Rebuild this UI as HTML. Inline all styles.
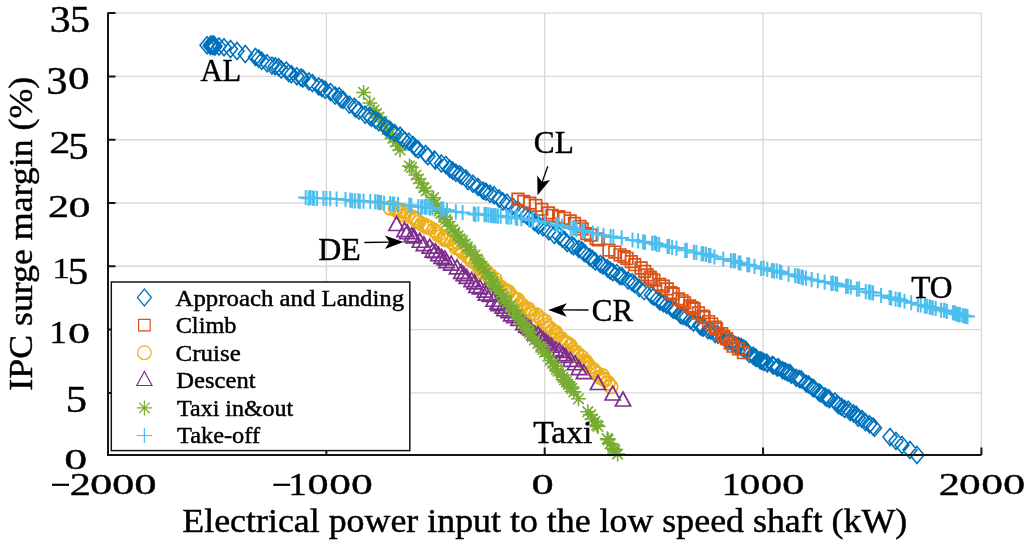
<!DOCTYPE html>
<html><head><meta charset="utf-8"><style>
html,body{margin:0;padding:0;background:#fff;}
svg{display:block;will-change:transform;}
text{font-family:"Liberation Serif",serif;fill:#000;}
</style></head><body>
<svg width="1030" height="545" viewBox="0 0 1030 545">
<rect width="1030" height="545" fill="#fff"/>
<path d="M109 392.9H981.4M109 329.6H981.4M109 266.3H981.4M109 203H981.4M109 139.7H981.4M109 76.4H981.4M109 13.1H981.4M326.35 13.1V454M544.7 13.1V454M763.05 13.1V454M981.4 13.1V454" stroke="#d9d9d9" stroke-width="1.4" fill="none"/>
<path d="M383.28 207.7a6.8 6.8 0 1 0 13.6 0a6.8 6.8 0 1 0 -13.6 0M383.27 208.11a6.8 6.8 0 1 0 13.6 0a6.8 6.8 0 1 0 -13.6 0M388.44 208.28a6.8 6.8 0 1 0 13.6 0a6.8 6.8 0 1 0 -13.6 0M389.49 209.99a6.8 6.8 0 1 0 13.6 0a6.8 6.8 0 1 0 -13.6 0M391.74 211.35a6.8 6.8 0 1 0 13.6 0a6.8 6.8 0 1 0 -13.6 0M393.42 210.36a6.8 6.8 0 1 0 13.6 0a6.8 6.8 0 1 0 -13.6 0M394.38 211.22a6.8 6.8 0 1 0 13.6 0a6.8 6.8 0 1 0 -13.6 0M397.94 211.58a6.8 6.8 0 1 0 13.6 0a6.8 6.8 0 1 0 -13.6 0M397.57 215.12a6.8 6.8 0 1 0 13.6 0a6.8 6.8 0 1 0 -13.6 0M401.11 214.9a6.8 6.8 0 1 0 13.6 0a6.8 6.8 0 1 0 -13.6 0M405.4 216.91a6.8 6.8 0 1 0 13.6 0a6.8 6.8 0 1 0 -13.6 0M408.16 218.16a6.8 6.8 0 1 0 13.6 0a6.8 6.8 0 1 0 -13.6 0M409.35 220.01a6.8 6.8 0 1 0 13.6 0a6.8 6.8 0 1 0 -13.6 0M411.79 222.19a6.8 6.8 0 1 0 13.6 0a6.8 6.8 0 1 0 -13.6 0M414.97 224.17a6.8 6.8 0 1 0 13.6 0a6.8 6.8 0 1 0 -13.6 0M417.79 225.23a6.8 6.8 0 1 0 13.6 0a6.8 6.8 0 1 0 -13.6 0M419.58 226.81a6.8 6.8 0 1 0 13.6 0a6.8 6.8 0 1 0 -13.6 0M420.09 227.1a6.8 6.8 0 1 0 13.6 0a6.8 6.8 0 1 0 -13.6 0M421.44 227.27a6.8 6.8 0 1 0 13.6 0a6.8 6.8 0 1 0 -13.6 0M422.98 227.8a6.8 6.8 0 1 0 13.6 0a6.8 6.8 0 1 0 -13.6 0M427.31 230.22a6.8 6.8 0 1 0 13.6 0a6.8 6.8 0 1 0 -13.6 0M429.42 232.03a6.8 6.8 0 1 0 13.6 0a6.8 6.8 0 1 0 -13.6 0M431.25 234.53a6.8 6.8 0 1 0 13.6 0a6.8 6.8 0 1 0 -13.6 0M434.31 236.33a6.8 6.8 0 1 0 13.6 0a6.8 6.8 0 1 0 -13.6 0M437.19 237.71a6.8 6.8 0 1 0 13.6 0a6.8 6.8 0 1 0 -13.6 0M437.77 239.37a6.8 6.8 0 1 0 13.6 0a6.8 6.8 0 1 0 -13.6 0M438.52 238.26a6.8 6.8 0 1 0 13.6 0a6.8 6.8 0 1 0 -13.6 0M440.66 240.12a6.8 6.8 0 1 0 13.6 0a6.8 6.8 0 1 0 -13.6 0M444.72 242.12a6.8 6.8 0 1 0 13.6 0a6.8 6.8 0 1 0 -13.6 0M447.71 244.14a6.8 6.8 0 1 0 13.6 0a6.8 6.8 0 1 0 -13.6 0M449.24 247.68a6.8 6.8 0 1 0 13.6 0a6.8 6.8 0 1 0 -13.6 0M452.58 248.55a6.8 6.8 0 1 0 13.6 0a6.8 6.8 0 1 0 -13.6 0M455.39 250.42a6.8 6.8 0 1 0 13.6 0a6.8 6.8 0 1 0 -13.6 0M455.5 251.37a6.8 6.8 0 1 0 13.6 0a6.8 6.8 0 1 0 -13.6 0M456.14 252.42a6.8 6.8 0 1 0 13.6 0a6.8 6.8 0 1 0 -13.6 0M461.18 256.86a6.8 6.8 0 1 0 13.6 0a6.8 6.8 0 1 0 -13.6 0M462.82 256.5a6.8 6.8 0 1 0 13.6 0a6.8 6.8 0 1 0 -13.6 0M465.02 260.78a6.8 6.8 0 1 0 13.6 0a6.8 6.8 0 1 0 -13.6 0M465.84 260.77a6.8 6.8 0 1 0 13.6 0a6.8 6.8 0 1 0 -13.6 0M468.95 262.81a6.8 6.8 0 1 0 13.6 0a6.8 6.8 0 1 0 -13.6 0M471.35 264.43a6.8 6.8 0 1 0 13.6 0a6.8 6.8 0 1 0 -13.6 0M472.78 268.81a6.8 6.8 0 1 0 13.6 0a6.8 6.8 0 1 0 -13.6 0M474.61 267.82a6.8 6.8 0 1 0 13.6 0a6.8 6.8 0 1 0 -13.6 0M474.81 271.97a6.8 6.8 0 1 0 13.6 0a6.8 6.8 0 1 0 -13.6 0M479.27 271.3a6.8 6.8 0 1 0 13.6 0a6.8 6.8 0 1 0 -13.6 0M480.82 274.76a6.8 6.8 0 1 0 13.6 0a6.8 6.8 0 1 0 -13.6 0M483.65 275.7a6.8 6.8 0 1 0 13.6 0a6.8 6.8 0 1 0 -13.6 0M483.69 278.07a6.8 6.8 0 1 0 13.6 0a6.8 6.8 0 1 0 -13.6 0M488.41 279.45a6.8 6.8 0 1 0 13.6 0a6.8 6.8 0 1 0 -13.6 0M488.72 283.27a6.8 6.8 0 1 0 13.6 0a6.8 6.8 0 1 0 -13.6 0M491.13 286.57a6.8 6.8 0 1 0 13.6 0a6.8 6.8 0 1 0 -13.6 0M493.84 287.23a6.8 6.8 0 1 0 13.6 0a6.8 6.8 0 1 0 -13.6 0M498.23 290.1a6.8 6.8 0 1 0 13.6 0a6.8 6.8 0 1 0 -13.6 0M497.66 291.52a6.8 6.8 0 1 0 13.6 0a6.8 6.8 0 1 0 -13.6 0M500.16 292.79a6.8 6.8 0 1 0 13.6 0a6.8 6.8 0 1 0 -13.6 0M501.63 291.98a6.8 6.8 0 1 0 13.6 0a6.8 6.8 0 1 0 -13.6 0M504.46 295.75a6.8 6.8 0 1 0 13.6 0a6.8 6.8 0 1 0 -13.6 0M506.25 297.66a6.8 6.8 0 1 0 13.6 0a6.8 6.8 0 1 0 -13.6 0M508.7 300.21a6.8 6.8 0 1 0 13.6 0a6.8 6.8 0 1 0 -13.6 0M510.73 299.63a6.8 6.8 0 1 0 13.6 0a6.8 6.8 0 1 0 -13.6 0M513.49 303.84a6.8 6.8 0 1 0 13.6 0a6.8 6.8 0 1 0 -13.6 0M515.24 305.1a6.8 6.8 0 1 0 13.6 0a6.8 6.8 0 1 0 -13.6 0M515.25 305.16a6.8 6.8 0 1 0 13.6 0a6.8 6.8 0 1 0 -13.6 0M517.08 308.74a6.8 6.8 0 1 0 13.6 0a6.8 6.8 0 1 0 -13.6 0M521.14 308.88a6.8 6.8 0 1 0 13.6 0a6.8 6.8 0 1 0 -13.6 0M521.92 310.37a6.8 6.8 0 1 0 13.6 0a6.8 6.8 0 1 0 -13.6 0M523.65 313.14a6.8 6.8 0 1 0 13.6 0a6.8 6.8 0 1 0 -13.6 0M525.8 313.91a6.8 6.8 0 1 0 13.6 0a6.8 6.8 0 1 0 -13.6 0M529.92 315.01a6.8 6.8 0 1 0 13.6 0a6.8 6.8 0 1 0 -13.6 0M530.13 319.38a6.8 6.8 0 1 0 13.6 0a6.8 6.8 0 1 0 -13.6 0M534 318.7a6.8 6.8 0 1 0 13.6 0a6.8 6.8 0 1 0 -13.6 0M538.18 321.34a6.8 6.8 0 1 0 13.6 0a6.8 6.8 0 1 0 -13.6 0M539.47 325.26a6.8 6.8 0 1 0 13.6 0a6.8 6.8 0 1 0 -13.6 0M541.08 328.02a6.8 6.8 0 1 0 13.6 0a6.8 6.8 0 1 0 -13.6 0M543.3 328.42a6.8 6.8 0 1 0 13.6 0a6.8 6.8 0 1 0 -13.6 0M546.27 331.07a6.8 6.8 0 1 0 13.6 0a6.8 6.8 0 1 0 -13.6 0M545.4 330.54a6.8 6.8 0 1 0 13.6 0a6.8 6.8 0 1 0 -13.6 0M548.81 332.36a6.8 6.8 0 1 0 13.6 0a6.8 6.8 0 1 0 -13.6 0M549.94 335.47a6.8 6.8 0 1 0 13.6 0a6.8 6.8 0 1 0 -13.6 0M554.12 338.41a6.8 6.8 0 1 0 13.6 0a6.8 6.8 0 1 0 -13.6 0M554.12 339.88a6.8 6.8 0 1 0 13.6 0a6.8 6.8 0 1 0 -13.6 0M557.25 341.33a6.8 6.8 0 1 0 13.6 0a6.8 6.8 0 1 0 -13.6 0M559.16 342.54a6.8 6.8 0 1 0 13.6 0a6.8 6.8 0 1 0 -13.6 0M560.97 343.7a6.8 6.8 0 1 0 13.6 0a6.8 6.8 0 1 0 -13.6 0M563.46 345.76a6.8 6.8 0 1 0 13.6 0a6.8 6.8 0 1 0 -13.6 0M565.37 349.96a6.8 6.8 0 1 0 13.6 0a6.8 6.8 0 1 0 -13.6 0M565.99 352.58a6.8 6.8 0 1 0 13.6 0a6.8 6.8 0 1 0 -13.6 0M569.35 352.26a6.8 6.8 0 1 0 13.6 0a6.8 6.8 0 1 0 -13.6 0M570.45 355.4a6.8 6.8 0 1 0 13.6 0a6.8 6.8 0 1 0 -13.6 0M572.93 355.8a6.8 6.8 0 1 0 13.6 0a6.8 6.8 0 1 0 -13.6 0M575.19 357.46a6.8 6.8 0 1 0 13.6 0a6.8 6.8 0 1 0 -13.6 0M575.6 361.35a6.8 6.8 0 1 0 13.6 0a6.8 6.8 0 1 0 -13.6 0M578.88 361.41a6.8 6.8 0 1 0 13.6 0a6.8 6.8 0 1 0 -13.6 0M578.81 363.77a6.8 6.8 0 1 0 13.6 0a6.8 6.8 0 1 0 -13.6 0M581.08 364.72a6.8 6.8 0 1 0 13.6 0a6.8 6.8 0 1 0 -13.6 0M582.38 367.35a6.8 6.8 0 1 0 13.6 0a6.8 6.8 0 1 0 -13.6 0M586.08 369.46a6.8 6.8 0 1 0 13.6 0a6.8 6.8 0 1 0 -13.6 0M586.18 369.98a6.8 6.8 0 1 0 13.6 0a6.8 6.8 0 1 0 -13.6 0M587.69 371.14a6.8 6.8 0 1 0 13.6 0a6.8 6.8 0 1 0 -13.6 0M590.52 373.76a6.8 6.8 0 1 0 13.6 0a6.8 6.8 0 1 0 -13.6 0M593 377.05a6.8 6.8 0 1 0 13.6 0a6.8 6.8 0 1 0 -13.6 0M595.63 375.66a6.8 6.8 0 1 0 13.6 0a6.8 6.8 0 1 0 -13.6 0M596.56 378.97a6.8 6.8 0 1 0 13.6 0a6.8 6.8 0 1 0 -13.6 0M598.13 380.16a6.8 6.8 0 1 0 13.6 0a6.8 6.8 0 1 0 -13.6 0M601.4 382.97a6.8 6.8 0 1 0 13.6 0a6.8 6.8 0 1 0 -13.6 0M604.06 386.72a6.8 6.8 0 1 0 13.6 0a6.8 6.8 0 1 0 -13.6 0" fill="none" stroke="#EDB120" stroke-width="1.7"/>
<path d="M396.5 216.5l7.6 14h-15.2zM404.52 222.59l7.6 14h-15.2zM407.24 224.75l7.6 14h-15.2zM411.74 227.72l7.6 14h-15.2zM413.9 228.81l7.6 14h-15.2zM419.8 233.26l7.6 14h-15.2zM423.85 236.7l7.6 14h-15.2zM429.71 239.19l7.6 14h-15.2zM432.71 243.17l7.6 14h-15.2zM435.47 243.76l7.6 14h-15.2zM438.37 246.76l7.6 14h-15.2zM441.69 249.42l7.6 14h-15.2zM444.86 250.92l7.6 14h-15.2zM446.61 253.56l7.6 14h-15.2zM451.23 256.11l7.6 14h-15.2zM457.02 259.9l7.6 14h-15.2zM461.26 264.29l7.6 14h-15.2zM463.8 266.61l7.6 14h-15.2zM466.74 269.41l7.6 14h-15.2zM471.6 272.56l7.6 14h-15.2zM474.47 274.86l7.6 14h-15.2zM476.47 278.51l7.6 14h-15.2zM480.01 279.87l7.6 14h-15.2zM484.72 283.18l7.6 14h-15.2zM485.92 286.13l7.6 14h-15.2zM490.11 287.38l7.6 14h-15.2zM493.59 292.23l7.6 14h-15.2zM497.47 295.03l7.6 14h-15.2zM498.74 296.71l7.6 14h-15.2zM502.7 299.11l7.6 14h-15.2zM504.52 301.75l7.6 14h-15.2zM508.55 303.62l7.6 14h-15.2zM511.21 306.96l7.6 14h-15.2zM514.43 308.73l7.6 14h-15.2zM518.52 311.44l7.6 14h-15.2zM523.36 315.54l7.6 14h-15.2zM526.24 318.21l7.6 14h-15.2zM528.48 319.41l7.6 14h-15.2zM530.5 320.95l7.6 14h-15.2zM534.66 325.91l7.6 14h-15.2zM537.89 326.73l7.6 14h-15.2zM540.79 329.6l7.6 14h-15.2zM543.36 332.02l7.6 14h-15.2zM545.97 334.1l7.6 14h-15.2zM548.37 336.18l7.6 14h-15.2zM551.46 338.03l7.6 14h-15.2zM555.84 341.7l7.6 14h-15.2zM559.22 343.44l7.6 14h-15.2zM562.76 346.61l7.6 14h-15.2zM565.42 348.52l7.6 14h-15.2zM570.46 352.32l7.6 14h-15.2zM575 355.73l7.6 14h-15.2zM578.92 360.53l7.6 14h-15.2zM583.94 364.71l7.6 14h-15.2zM598 375.5l7.6 14h-15.2zM612.6 386l7.6 14h-15.2zM623 392l7.6 14h-15.2z" fill="none" stroke="#7E2F8E" stroke-width="1.7"/>
<path d="M356.1 92.4h15M363.6 84.9v15M358.3 87.1l10.61 10.61M358.3 97.7l10.61 -10.61M362.3 103h15M369.8 95.5v15M364.5 97.7l10.61 10.61M364.5 108.3l10.61 -10.61M366.5 110h15M374 102.5v15M368.7 104.7l10.61 10.61M368.7 115.3l10.61 -10.61M369 113.5h15M376.5 106v15M371.2 108.2l10.61 10.61M371.2 118.8l10.61 -10.61M371.5 117h15M379 109.5v15M373.7 111.7l10.61 10.61M373.7 122.3l10.61 -10.61M374.5 121.5h15M382 114v15M376.7 116.2l10.61 10.61M376.7 126.8l10.61 -10.61M377 125h15M384.5 117.5v15M379.2 119.7l10.61 10.61M379.2 130.3l10.61 -10.61M379.5 129.5h15M387 122v15M381.7 124.2l10.61 10.61M381.7 134.8l10.61 -10.61M382.5 134h15M390 126.5v15M384.7 128.7l10.61 10.61M384.7 139.3l10.61 -10.61M385.5 138.5h15M393 131v15M387.7 133.2l10.61 10.61M387.7 143.8l10.61 -10.61M388 142h15M395.5 134.5v15M390.2 136.7l10.61 10.61M390.2 147.3l10.61 -10.61M390.5 146h15M398 138.5v15M392.7 140.7l10.61 10.61M392.7 151.3l10.61 -10.61M392.5 150h15M400 142.5v15M394.7 144.7l10.61 10.61M394.7 155.3l10.61 -10.61M402 166h15M409.5 158.5v15M404.2 160.7l10.61 10.61M404.2 171.3l10.61 -10.61M404 167.5h15M411.5 160v15M406.2 162.2l10.61 10.61M406.2 172.8l10.61 -10.61M408.5 175h15M416 167.5v15M410.7 169.7l10.61 10.61M410.7 180.3l10.61 -10.61M411 179h15M418.5 171.5v15M413.2 173.7l10.61 10.61M413.2 184.3l10.61 -10.61M413.5 183h15M421 175.5v15M415.7 177.7l10.61 10.61M415.7 188.3l10.61 -10.61M416.5 188h15M424 180.5v15M418.7 182.7l10.61 10.61M418.7 193.3l10.61 -10.61M418.5 191h15M426 183.5v15M420.7 185.7l10.61 10.61M420.7 196.3l10.61 -10.61M426 197.7h15M433.5 190.2v15M428.2 192.4l10.61 10.61M428.2 203l10.61 -10.61M424.31 200.04h15M431.81 192.54v15M426.5 194.73l10.61 10.61M426.5 205.34l10.61 -10.61M427.36 203.97h15M434.86 196.47v15M429.55 198.67l10.61 10.61M429.55 209.27l10.61 -10.61M429.02 206.83h15M436.52 199.33v15M431.21 201.52l10.61 10.61M431.21 212.13l10.61 -10.61M431.67 211.12h15M439.17 203.62v15M433.87 205.82l10.61 10.61M433.87 216.42l10.61 -10.61M433.37 213.34h15M440.87 205.84v15M435.57 208.04l10.61 10.61M435.57 218.65l10.61 -10.61M436.12 217.06h15M443.62 209.56v15M438.31 211.76l10.61 10.61M438.31 222.36l10.61 -10.61M438.23 219.5h15M445.73 212v15M440.43 214.2l10.61 10.61M440.43 224.8l10.61 -10.61M439.79 221.91h15M447.29 214.41v15M441.99 216.61l10.61 10.61M441.99 227.22l10.61 -10.61M442.58 226h15M450.08 218.5v15M444.78 220.7l10.61 10.61M444.78 231.3l10.61 -10.61M445.28 229.63h15M452.78 222.13v15M447.48 224.33l10.61 10.61M447.48 234.94l10.61 -10.61M447.28 231.99h15M454.78 224.49v15M449.48 226.69l10.61 10.61M449.48 237.29l10.61 -10.61M450.61 235.74h15M458.11 228.24v15M452.8 230.44l10.61 10.61M452.8 241.04l10.61 -10.61M452.66 238.82h15M460.16 231.32v15M454.85 233.52l10.61 10.61M454.85 244.13l10.61 -10.61M454.84 240.64h15M462.34 233.14v15M457.04 235.34l10.61 10.61M457.04 245.95l10.61 -10.61M457.69 244.15h15M465.19 236.65v15M459.89 238.84l10.61 10.61M459.89 249.45l10.61 -10.61M459.77 246.87h15M467.27 239.37v15M461.96 241.57l10.61 10.61M461.96 252.17l10.61 -10.61M462.52 249.79h15M470.02 242.29v15M464.71 244.49l10.61 10.61M464.71 255.1l10.61 -10.61M463.66 251.75h15M471.16 244.25v15M465.86 246.45l10.61 10.61M465.86 257.06l10.61 -10.61M467.55 255.11h15M475.05 247.61v15M469.75 249.8l10.61 10.61M469.75 260.41l10.61 -10.61M469.54 259h15M477.04 251.5v15M471.74 253.69l10.61 10.61M471.74 264.3l10.61 -10.61M470.66 261.03h15M478.16 253.53v15M472.85 255.73l10.61 10.61M472.85 266.33l10.61 -10.61M472.15 263.29h15M479.65 255.79v15M474.35 257.99l10.61 10.61M474.35 268.6l10.61 -10.61M474.56 266.28h15M482.06 258.78v15M476.76 260.98l10.61 10.61M476.76 271.59l10.61 -10.61M476.11 268.91h15M483.61 261.41v15M478.31 263.6l10.61 10.61M478.31 274.21l10.61 -10.61M478.43 272.75h15M485.93 265.25v15M480.63 267.45l10.61 10.61M480.63 278.06l10.61 -10.61M481.75 277.01h15M489.25 269.51v15M483.95 271.71l10.61 10.61M483.95 282.32l10.61 -10.61M483.23 279.03h15M490.73 271.53v15M485.43 273.73l10.61 10.61M485.43 284.33l10.61 -10.61M485.23 282.36h15M492.73 274.86v15M487.43 277.05l10.61 10.61M487.43 287.66l10.61 -10.61M486.21 284.41h15M493.71 276.91v15M488.41 279.11l10.61 10.61M488.41 289.71l10.61 -10.61M488.19 286.6h15M495.69 279.1v15M490.38 281.3l10.61 10.61M490.38 291.9l10.61 -10.61M491.25 290.35h15M498.75 282.85v15M493.45 285.05l10.61 10.61M493.45 295.65l10.61 -10.61M493.63 293.6h15M501.13 286.1v15M495.82 288.3l10.61 10.61M495.82 298.91l10.61 -10.61M495.87 296.83h15M503.37 289.33v15M498.07 291.53l10.61 10.61M498.07 302.14l10.61 -10.61M497.51 300.12h15M505.01 292.62v15M499.71 294.81l10.61 10.61M499.71 305.42l10.61 -10.61M499.47 302.22h15M506.97 294.72v15M501.67 296.92l10.61 10.61M501.67 307.52l10.61 -10.61M502.56 306.07h15M510.06 298.57v15M504.75 300.77l10.61 10.61M504.75 311.38l10.61 -10.61M505.07 309.45h15M512.57 301.95v15M507.27 304.15l10.61 10.61M507.27 314.76l10.61 -10.61M507.25 311.46h15M514.75 303.96v15M509.44 306.15l10.61 10.61M509.44 316.76l10.61 -10.61M509.39 314.45h15M516.89 306.95v15M511.59 309.15l10.61 10.61M511.59 319.76l10.61 -10.61M511.53 317.37h15M519.03 309.87v15M513.73 312.07l10.61 10.61M513.73 322.67l10.61 -10.61M513.12 319.77h15M520.62 312.27v15M515.32 314.46l10.61 10.61M515.32 325.07l10.61 -10.61M515.9 324h15M523.4 316.5v15M518.1 318.7l10.61 10.61M518.1 329.3l10.61 -10.61M517.53 326h15M525.03 318.5v15M519.73 320.7l10.61 10.61M519.73 331.3l10.61 -10.61M519.63 328.79h15M527.13 321.29v15M521.82 323.48l10.61 10.61M521.82 334.09l10.61 -10.61M521.38 331.2h15M528.88 323.7v15M523.58 325.89l10.61 10.61M523.58 336.5l10.61 -10.61M522.23 332.92h15M529.73 325.42v15M524.42 327.62l10.61 10.61M524.42 338.22l10.61 -10.61M524.88 336.61h15M532.38 329.11v15M527.07 331.31l10.61 10.61M527.07 341.92l10.61 -10.61M527.08 339.82h15M534.58 332.32v15M529.28 334.51l10.61 10.61M529.28 345.12l10.61 -10.61M530.45 343.37h15M537.95 335.87v15M532.65 338.06l10.61 10.61M532.65 348.67l10.61 -10.61M533.23 347.06h15M540.73 339.56v15M535.43 341.76l10.61 10.61M535.43 352.36l10.61 -10.61M535.33 349.47h15M542.83 341.97v15M537.52 344.17l10.61 10.61M537.52 354.78l10.61 -10.61M537.04 352.05h15M544.54 344.55v15M539.24 346.75l10.61 10.61M539.24 357.36l10.61 -10.61M540.27 356.18h15M547.77 348.68v15M542.47 350.88l10.61 10.61M542.47 361.48l10.61 -10.61M542.83 360.41h15M550.33 352.91v15M545.03 355.11l10.61 10.61M545.03 365.72l10.61 -10.61M545.07 363.25h15M552.57 355.75v15M547.26 357.95l10.61 10.61M547.26 368.56l10.61 -10.61M547.41 366.3h15M554.91 358.8v15M549.61 360.99l10.61 10.61M549.61 371.6l10.61 -10.61M549.04 369.07h15M556.54 361.57v15M551.23 363.77l10.61 10.61M551.23 374.37l10.61 -10.61M550.55 371.12h15M558.05 363.62v15M552.75 365.81l10.61 10.61M552.75 376.42l10.61 -10.61M553.55 374.92h15M561.05 367.42v15M555.75 369.62l10.61 10.61M555.75 380.22l10.61 -10.61M555.43 377.31h15M562.93 369.81v15M557.62 372.01l10.61 10.61M557.62 382.61l10.61 -10.61M556.93 379.74h15M564.43 372.24v15M559.13 374.43l10.61 10.61M559.13 385.04l10.61 -10.61M558.94 381.79h15M566.44 374.29v15M561.13 376.49l10.61 10.61M561.13 387.09l10.61 -10.61M560.73 384.36h15M568.23 376.86v15M562.93 379.06l10.61 10.61M562.93 389.66l10.61 -10.61M562.61 386.73h15M570.11 379.23v15M564.81 381.42l10.61 10.61M564.81 392.03l10.61 -10.61M564.35 388.58h15M571.85 381.08v15M566.54 383.28l10.61 10.61M566.54 393.88l10.61 -10.61M566.31 391.89h15M573.81 384.39v15M568.51 386.59l10.61 10.61M568.51 397.19l10.61 -10.61M571 398.8h15M578.5 391.3v15M573.2 393.5l10.61 10.61M573.2 404.1l10.61 -10.61M580.31 411.73h15M587.81 404.23v15M582.51 406.42l10.61 10.61M582.51 417.03l10.61 -10.61M583.04 414.88h15M590.54 407.38v15M585.24 409.58l10.61 10.61M585.24 420.19l10.61 -10.61M584.46 419.09h15M591.96 411.59v15M586.66 413.78l10.61 10.61M586.66 424.39l10.61 -10.61M587.42 421.57h15M594.92 414.07v15M589.62 416.27l10.61 10.61M589.62 426.87l10.61 -10.61M589.24 425.11h15M596.74 417.61v15M591.43 419.81l10.61 10.61M591.43 430.42l10.61 -10.61M590.61 426.47h15M598.11 418.97v15M592.81 421.17l10.61 10.61M592.81 431.78l10.61 -10.61M599.71 438.71h15M607.21 431.21v15M601.91 433.4l10.61 10.61M601.91 444.01l10.61 -10.61M600.6 439.79h15M608.1 432.29v15M602.79 434.48l10.61 10.61M602.79 445.09l10.61 -10.61M602.61 443.65h15M610.11 436.15v15M604.81 438.35l10.61 10.61M604.81 448.96l10.61 -10.61M605.36 448.41h15M612.86 440.91v15M607.56 443.1l10.61 10.61M607.56 453.71l10.61 -10.61M607.16 450.68h15M614.66 443.18v15M609.35 445.37l10.61 10.61M609.35 455.98l10.61 -10.61M607 449.5h15M614.5 442v15M609.2 444.2l10.61 10.61M609.2 454.8l10.61 -10.61M610.1 454.1h15M617.6 446.6v15M612.3 448.8l10.61 10.61M612.3 459.4l10.61 -10.61" fill="none" stroke="#77AC30" stroke-width="1.55"/>
<path d="M207 36.8l7 8.5l-7 8.5l-7 -8.5zM212.26 37.12l7 8.5l-7 8.5l-7 -8.5zM214.62 36.93l7 8.5l-7 8.5l-7 -8.5zM212.54 37.17l7 8.5l-7 8.5l-7 -8.5zM210.92 37.02l7 8.5l-7 8.5l-7 -8.5zM213.15 37.59l7 8.5l-7 8.5l-7 -8.5zM210.47 36.61l7 8.5l-7 8.5l-7 -8.5zM210.45 37.62l7 8.5l-7 8.5l-7 -8.5zM213.47 36.08l7 8.5l-7 8.5l-7 -8.5zM214.91 37.93l7 8.5l-7 8.5l-7 -8.5zM213.27 37.23l7 8.5l-7 8.5l-7 -8.5zM210.79 36.03l7 8.5l-7 8.5l-7 -8.5zM212.64 36.12l7 8.5l-7 8.5l-7 -8.5zM219 38l7 8.5l-7 8.5l-7 -8.5zM224 38.8l7 8.5l-7 8.5l-7 -8.5zM230.5 40.5l7 8.5l-7 8.5l-7 -8.5zM237 42.5l7 8.5l-7 8.5l-7 -8.5zM245.3 45.5l7 8.5l-7 8.5l-7 -8.5zM255.5 48.59l7 8.5l-7 8.5l-7 -8.5zM258.64 49.91l7 8.5l-7 8.5l-7 -8.5zM261.75 52.32l7 8.5l-7 8.5l-7 -8.5zM267.08 54.77l7 8.5l-7 8.5l-7 -8.5zM271.93 57.11l7 8.5l-7 8.5l-7 -8.5zM275.22 57.79l7 8.5l-7 8.5l-7 -8.5zM278.65 58.73l7 8.5l-7 8.5l-7 -8.5zM281.28 61.09l7 8.5l-7 8.5l-7 -8.5zM286.26 62.11l7 8.5l-7 8.5l-7 -8.5zM288.76 64.63l7 8.5l-7 8.5l-7 -8.5zM291.44 65.78l7 8.5l-7 8.5l-7 -8.5zM296.79 67.66l7 8.5l-7 8.5l-7 -8.5zM300.97 68.91l7 8.5l-7 8.5l-7 -8.5zM302.87 69.91l7 8.5l-7 8.5l-7 -8.5zM308.89 72.89l7 8.5l-7 8.5l-7 -8.5zM312.34 74.6l7 8.5l-7 8.5l-7 -8.5zM318.75 77.96l7 8.5l-7 8.5l-7 -8.5zM321.87 79.56l7 8.5l-7 8.5l-7 -8.5zM325.04 81.24l7 8.5l-7 8.5l-7 -8.5zM330.51 83.42l7 8.5l-7 8.5l-7 -8.5zM335.08 86.96l7 8.5l-7 8.5l-7 -8.5zM339.15 87.75l7 8.5l-7 8.5l-7 -8.5zM341.19 90.88l7 8.5l-7 8.5l-7 -8.5zM343.2 91.29l7 8.5l-7 8.5l-7 -8.5zM349.4 96.13l7 8.5l-7 8.5l-7 -8.5zM354.47 98.28l7 8.5l-7 8.5l-7 -8.5zM355.79 100.26l7 8.5l-7 8.5l-7 -8.5zM359 102.14l7 8.5l-7 8.5l-7 -8.5zM365.11 106.2l7 8.5l-7 8.5l-7 -8.5zM369.26 107.41l7 8.5l-7 8.5l-7 -8.5zM371.34 109.34l7 8.5l-7 8.5l-7 -8.5zM375.39 111.35l7 8.5l-7 8.5l-7 -8.5zM378.75 113.79l7 8.5l-7 8.5l-7 -8.5zM384.62 117.45l7 8.5l-7 8.5l-7 -8.5zM386.4 119.13l7 8.5l-7 8.5l-7 -8.5zM390.46 121.76l7 8.5l-7 8.5l-7 -8.5zM394.61 124.39l7 8.5l-7 8.5l-7 -8.5zM400.1 127.3l7 8.5l-7 8.5l-7 -8.5zM402.23 129.59l7 8.5l-7 8.5l-7 -8.5zM404.87 132.09l7 8.5l-7 8.5l-7 -8.5zM408.82 133.13l7 8.5l-7 8.5l-7 -8.5zM413.14 136.72l7 8.5l-7 8.5l-7 -8.5zM415.68 139.57l7 8.5l-7 8.5l-7 -8.5zM418.17 141.04l7 8.5l-7 8.5l-7 -8.5zM425.55 145.54l7 8.5l-7 8.5l-7 -8.5zM427.95 147.73l7 8.5l-7 8.5l-7 -8.5zM434.5 150.9l7 8.5l-7 8.5l-7 -8.5zM435.24 152.06l7 8.5l-7 8.5l-7 -8.5zM441.36 155.06l7 8.5l-7 8.5l-7 -8.5zM445.88 156.45l7 8.5l-7 8.5l-7 -8.5zM449.78 160.29l7 8.5l-7 8.5l-7 -8.5zM452.8 162.21l7 8.5l-7 8.5l-7 -8.5zM455.84 164.27l7 8.5l-7 8.5l-7 -8.5zM459.59 165.84l7 8.5l-7 8.5l-7 -8.5zM461.67 167.47l7 8.5l-7 8.5l-7 -8.5zM465.89 169.89l7 8.5l-7 8.5l-7 -8.5zM467.91 172.55l7 8.5l-7 8.5l-7 -8.5zM472.94 175.18l7 8.5l-7 8.5l-7 -8.5zM478.03 178.44l7 8.5l-7 8.5l-7 -8.5zM483.23 182.28l7 8.5l-7 8.5l-7 -8.5zM485.98 183.22l7 8.5l-7 8.5l-7 -8.5zM490.05 185.34l7 8.5l-7 8.5l-7 -8.5zM494.12 186.69l7 8.5l-7 8.5l-7 -8.5zM499.12 189.92l7 8.5l-7 8.5l-7 -8.5zM502.88 193.05l7 8.5l-7 8.5l-7 -8.5zM506.92 194.32l7 8.5l-7 8.5l-7 -8.5zM512.51 197.76l7 8.5l-7 8.5l-7 -8.5zM517.77 201.02l7 8.5l-7 8.5l-7 -8.5zM522.98 205.24l7 8.5l-7 8.5l-7 -8.5zM526.4 206.9l7 8.5l-7 8.5l-7 -8.5zM529.36 209.46l7 8.5l-7 8.5l-7 -8.5zM534.4 213.56l7 8.5l-7 8.5l-7 -8.5zM537 214.41l7 8.5l-7 8.5l-7 -8.5zM538.48 216.8l7 8.5l-7 8.5l-7 -8.5zM543.03 218.75l7 8.5l-7 8.5l-7 -8.5zM548.85 222.77l7 8.5l-7 8.5l-7 -8.5zM554.35 226.44l7 8.5l-7 8.5l-7 -8.5zM559.14 227.43l7 8.5l-7 8.5l-7 -8.5zM562.5 230.19l7 8.5l-7 8.5l-7 -8.5zM564.73 231.67l7 8.5l-7 8.5l-7 -8.5zM567.14 234.46l7 8.5l-7 8.5l-7 -8.5zM571.74 236.53l7 8.5l-7 8.5l-7 -8.5zM573.75 237.86l7 8.5l-7 8.5l-7 -8.5zM578.81 240.59l7 8.5l-7 8.5l-7 -8.5zM581.95 242.08l7 8.5l-7 8.5l-7 -8.5zM583.91 243.92l7 8.5l-7 8.5l-7 -8.5zM585.07 244.9l7 8.5l-7 8.5l-7 -8.5zM589.79 248.78l7 8.5l-7 8.5l-7 -8.5zM592.45 250.49l7 8.5l-7 8.5l-7 -8.5zM595.28 252.95l7 8.5l-7 8.5l-7 -8.5zM600.35 255.49l7 8.5l-7 8.5l-7 -8.5zM602.89 256.96l7 8.5l-7 8.5l-7 -8.5zM607.32 259.67l7 8.5l-7 8.5l-7 -8.5zM610.16 262.07l7 8.5l-7 8.5l-7 -8.5zM612.92 263.67l7 8.5l-7 8.5l-7 -8.5zM616.71 264.63l7 8.5l-7 8.5l-7 -8.5zM619.85 267.5l7 8.5l-7 8.5l-7 -8.5zM622.11 267.8l7 8.5l-7 8.5l-7 -8.5zM628.04 272.06l7 8.5l-7 8.5l-7 -8.5zM632.09 273.81l7 8.5l-7 8.5l-7 -8.5zM634.54 275.41l7 8.5l-7 8.5l-7 -8.5zM639.19 279.47l7 8.5l-7 8.5l-7 -8.5zM644.21 282.63l7 8.5l-7 8.5l-7 -8.5zM651.35 286.41l7 8.5l-7 8.5l-7 -8.5zM653.57 287.95l7 8.5l-7 8.5l-7 -8.5zM657.46 290.6l7 8.5l-7 8.5l-7 -8.5zM659.9 292.96l7 8.5l-7 8.5l-7 -8.5zM663.34 294.67l7 8.5l-7 8.5l-7 -8.5zM666.68 296.47l7 8.5l-7 8.5l-7 -8.5zM670.88 299.02l7 8.5l-7 8.5l-7 -8.5zM673.28 301.3l7 8.5l-7 8.5l-7 -8.5zM675.44 301.76l7 8.5l-7 8.5l-7 -8.5zM680.49 306.52l7 8.5l-7 8.5l-7 -8.5zM683.01 307.54l7 8.5l-7 8.5l-7 -8.5zM686.31 308.67l7 8.5l-7 8.5l-7 -8.5zM690.45 311.68l7 8.5l-7 8.5l-7 -8.5zM693.6 314.11l7 8.5l-7 8.5l-7 -8.5zM699.97 316.33l7 8.5l-7 8.5l-7 -8.5zM700.19 317.68l7 8.5l-7 8.5l-7 -8.5zM702.54 318.93l7 8.5l-7 8.5l-7 -8.5zM703.49 318.66l7 8.5l-7 8.5l-7 -8.5zM708.07 321.77l7 8.5l-7 8.5l-7 -8.5zM710.82 321.95l7 8.5l-7 8.5l-7 -8.5zM715.18 325.47l7 8.5l-7 8.5l-7 -8.5zM718.19 326.28l7 8.5l-7 8.5l-7 -8.5zM722.72 327.9l7 8.5l-7 8.5l-7 -8.5zM726.36 331.12l7 8.5l-7 8.5l-7 -8.5zM728.75 332.86l7 8.5l-7 8.5l-7 -8.5zM732.41 334.25l7 8.5l-7 8.5l-7 -8.5zM735.87 336.7l7 8.5l-7 8.5l-7 -8.5zM738.55 337.54l7 8.5l-7 8.5l-7 -8.5zM741.14 338.52l7 8.5l-7 8.5l-7 -8.5zM743.63 339.97l7 8.5l-7 8.5l-7 -8.5zM745.72 341.23l7 8.5l-7 8.5l-7 -8.5zM746.61 342.52l7 8.5l-7 8.5l-7 -8.5zM749.49 345.62l7 8.5l-7 8.5l-7 -8.5zM753.14 347.32l7 8.5l-7 8.5l-7 -8.5zM755.01 348.65l7 8.5l-7 8.5l-7 -8.5zM756.19 349.56l7 8.5l-7 8.5l-7 -8.5zM760.01 351.83l7 8.5l-7 8.5l-7 -8.5zM761.46 352.2l7 8.5l-7 8.5l-7 -8.5zM763.9 353.45l7 8.5l-7 8.5l-7 -8.5zM766.68 354.1l7 8.5l-7 8.5l-7 -8.5zM767.3 355l7 8.5l-7 8.5l-7 -8.5zM772.37 356.45l7 8.5l-7 8.5l-7 -8.5zM773.51 356.98l7 8.5l-7 8.5l-7 -8.5zM777.1 359.12l7 8.5l-7 8.5l-7 -8.5zM778.29 358.63l7 8.5l-7 8.5l-7 -8.5zM782.6 361.82l7 8.5l-7 8.5l-7 -8.5zM785.14 362.67l7 8.5l-7 8.5l-7 -8.5zM787.86 364.35l7 8.5l-7 8.5l-7 -8.5zM789.95 364.38l7 8.5l-7 8.5l-7 -8.5zM791.44 366.2l7 8.5l-7 8.5l-7 -8.5zM796.17 369.27l7 8.5l-7 8.5l-7 -8.5zM799.39 370.48l7 8.5l-7 8.5l-7 -8.5zM801.28 370.93l7 8.5l-7 8.5l-7 -8.5zM806.26 375.12l7 8.5l-7 8.5l-7 -8.5zM808.64 375.98l7 8.5l-7 8.5l-7 -8.5zM812.58 379.25l7 8.5l-7 8.5l-7 -8.5zM813.91 379.87l7 8.5l-7 8.5l-7 -8.5zM818.81 383.86l7 8.5l-7 8.5l-7 -8.5zM820.67 385.04l7 8.5l-7 8.5l-7 -8.5zM824.92 387.92l7 8.5l-7 8.5l-7 -8.5zM826.56 389.22l7 8.5l-7 8.5l-7 -8.5zM828.86 389.63l7 8.5l-7 8.5l-7 -8.5zM829.28 390.81l7 8.5l-7 8.5l-7 -8.5zM834.9 393.04l7 8.5l-7 8.5l-7 -8.5zM837.48 395.66l7 8.5l-7 8.5l-7 -8.5zM838.83 396.88l7 8.5l-7 8.5l-7 -8.5zM841.46 398.17l7 8.5l-7 8.5l-7 -8.5zM844.64 400.47l7 8.5l-7 8.5l-7 -8.5zM848.18 401.18l7 8.5l-7 8.5l-7 -8.5zM850.22 403.59l7 8.5l-7 8.5l-7 -8.5zM853.69 405.09l7 8.5l-7 8.5l-7 -8.5zM856.23 406.31l7 8.5l-7 8.5l-7 -8.5zM858.16 409.29l7 8.5l-7 8.5l-7 -8.5zM862.03 410.6l7 8.5l-7 8.5l-7 -8.5zM865.47 413.64l7 8.5l-7 8.5l-7 -8.5zM869.51 415.73l7 8.5l-7 8.5l-7 -8.5zM873.15 418.04l7 8.5l-7 8.5l-7 -8.5zM874.51 419.38l7 8.5l-7 8.5l-7 -8.5zM890 428.5l7 8.5l-7 8.5l-7 -8.5zM896 432.5l7 8.5l-7 8.5l-7 -8.5zM902 436.5l7 8.5l-7 8.5l-7 -8.5zM910 441.5l7 8.5l-7 8.5l-7 -8.5zM917 446.5l7 8.5l-7 8.5l-7 -8.5z" fill="none" stroke="#0072BD" stroke-width="1.55"/>
<path d="M512.17 193.37h11.6v11.6h-11.6zM517.95 195.64h11.6v11.6h-11.6zM524.06 197.31h11.6v11.6h-11.6zM530.07 199.6h11.6v11.6h-11.6zM535.96 203.54h11.6v11.6h-11.6zM542.64 207.09h11.6v11.6h-11.6zM546.12 209.58h11.6v11.6h-11.6zM552.87 210.89h11.6v11.6h-11.6zM558.7 212.5h11.6v11.6h-11.6zM564.35 215.19h11.6v11.6h-11.6zM568.63 217.65h11.6v11.6h-11.6zM574.1 220.55h11.6v11.6h-11.6zM576.44 223.03h11.6v11.6h-11.6zM581.07 227.82h11.6v11.6h-11.6zM584.78 229.3h11.6v11.6h-11.6zM590.51 233.01h11.6v11.6h-11.6zM592.69 234.17h11.6v11.6h-11.6zM603.14 244.37h11.6v11.6h-11.6zM608.99 246.24h11.6v11.6h-11.6zM614.14 248.98h11.6v11.6h-11.6zM618.23 250.91h11.6v11.6h-11.6zM621.23 252.66h11.6v11.6h-11.6zM625.48 255.82h11.6v11.6h-11.6zM628.9 258.89h11.6v11.6h-11.6zM635.26 262.18h11.6v11.6h-11.6zM638.9 265.61h11.6v11.6h-11.6zM641.33 269.05h11.6v11.6h-11.6zM644.38 271.41h11.6v11.6h-11.6zM645.32 273.31h11.6v11.6h-11.6zM648.11 274.39h11.6v11.6h-11.6zM653.84 278.52h11.6v11.6h-11.6zM657.59 280.38h11.6v11.6h-11.6zM661.49 283.1h11.6v11.6h-11.6zM665.1 286.8h11.6v11.6h-11.6zM667.43 288.16h11.6v11.6h-11.6zM672.67 293.08h11.6v11.6h-11.6zM676.33 295.01h11.6v11.6h-11.6zM678.8 297.16h11.6v11.6h-11.6zM683.83 300.19h11.6v11.6h-11.6zM686.38 301.73h11.6v11.6h-11.6zM688.43 303.16h11.6v11.6h-11.6zM692.63 307.18h11.6v11.6h-11.6zM697.4 310.35h11.6v11.6h-11.6zM698.24 311.65h11.6v11.6h-11.6zM702.75 315.75h11.6v11.6h-11.6zM705.94 318.27h11.6v11.6h-11.6zM709.38 321.27h11.6v11.6h-11.6zM710.73 323.14h11.6v11.6h-11.6zM715.92 327.96h11.6v11.6h-11.6zM717.98 330.7h11.6v11.6h-11.6zM720.73 332.81h11.6v11.6h-11.6zM724.53 337.39h11.6v11.6h-11.6zM727.24 340.42h11.6v11.6h-11.6zM732.7 343.14h11.6v11.6h-11.6zM737.62 346.8h11.6v11.6h-11.6z" fill="none" stroke="#D95319" stroke-width="1.7"/>
<path d="M298.1 197.53h15.2M305.7 189.93v15.2M301.02 198.16h15.2M308.62 190.56v15.2M302.74 197.55h15.2M310.34 189.95v15.2M305.05 197.98h15.2M312.65 190.38v15.2M306.65 198.33h15.2M314.25 190.73v15.2M309.42 198.3h15.2M317.02 190.7v15.2M315.87 198.29h15.2M323.47 190.69v15.2M318.78 198.54h15.2M326.38 190.94v15.2M322.64 198.64h15.2M330.24 191.04v15.2M329 199.05h15.2M336.6 191.45v15.2M337.86 199.71h15.2M345.46 192.11v15.2M342.71 200.2h15.2M350.31 192.6v15.2M344.8 200.91h15.2M352.4 193.31v15.2M347.53 200.97h15.2M355.13 193.37v15.2M350.74 200.83h15.2M358.34 193.23v15.2M352.26 201.34h15.2M359.86 193.74v15.2M355.94 201.1h15.2M363.54 193.5v15.2M362.67 201.47h15.2M370.27 193.87v15.2M367.57 201.88h15.2M375.17 194.28v15.2M369.99 201.96h15.2M377.59 194.36v15.2M371.72 202.59h15.2M379.32 194.99v15.2M373.59 202.49h15.2M381.19 194.89v15.2M376.54 203.21h15.2M384.14 195.61v15.2M382.42 203.55h15.2M390.02 195.95v15.2M385.02 204.07h15.2M392.62 196.47v15.2M386.57 204.02h15.2M394.17 196.42v15.2M390.38 204.35h15.2M397.98 196.75v15.2M401.7 205.21h15.2M409.3 197.61v15.2M403.77 205.5h15.2M411.37 197.9v15.2M410.7 206.61h15.2M418.3 199.01v15.2M413.58 206.89h15.2M421.18 199.29v15.2M414.87 206.89h15.2M422.47 199.29v15.2M417.33 207.18h15.2M424.93 199.58v15.2M418.91 207.24h15.2M426.51 199.64v15.2M421.64 207.51h15.2M429.24 199.91v15.2M422.32 208.11h15.2M429.92 200.51v15.2M424.75 208.02h15.2M432.35 200.42v15.2M433.24 209.46h15.2M440.84 201.86v15.2M435.57 209.22h15.2M443.17 201.62v15.2M439.39 210.35h15.2M446.99 202.75v15.2M448.24 211.87h15.2M455.84 204.27v15.2M455.02 212.48h15.2M462.62 204.88v15.2M466.1 213.82h15.2M473.7 206.22v15.2M467.88 214.54h15.2M475.48 206.94v15.2M470.79 213.97h15.2M478.39 206.37v15.2M476.85 214.72h15.2M484.45 207.12v15.2M478.5 214.7h15.2M486.1 207.1v15.2M480.74 214.91h15.2M488.34 207.31v15.2M483.16 215.46h15.2M490.76 207.86v15.2M485.17 215.73h15.2M492.77 208.13v15.2M487.18 215.67h15.2M494.78 208.07v15.2M488.18 215.87h15.2M495.78 208.27v15.2M490.32 216.11h15.2M497.92 208.51v15.2M493.12 216.11h15.2M500.72 208.51v15.2M498.81 216.71h15.2M506.41 209.11v15.2M500.97 217.25h15.2M508.57 209.65v15.2M503.63 216.78h15.2M511.23 209.18v15.2M507.97 217.64h15.2M515.57 210.04v15.2M509.55 218.3h15.2M517.15 210.7v15.2M513.82 218.54h15.2M521.42 210.94v15.2M521.44 219.69h15.2M529.04 212.09v15.2M524.35 220.29h15.2M531.95 212.69v15.2M525.21 220.03h15.2M532.81 212.43v15.2M530.67 221.31h15.2M538.27 213.71v15.2M537.53 222.44h15.2M545.13 214.84v15.2M548.27 224.69h15.2M555.87 217.09v15.2M550.2 224.85h15.2M557.8 217.25v15.2M554.22 226.26h15.2M561.82 218.66v15.2M563.09 228.04h15.2M570.69 220.44v15.2M565.61 228.25h15.2M573.21 220.65v15.2M567.33 228.13h15.2M574.93 220.53v15.2M568.78 229.38h15.2M576.38 221.78v15.2M574.39 230.44h15.2M581.99 222.84v15.2M576.37 231.19h15.2M583.97 223.59v15.2M585.2 233.03h15.2M592.8 225.43v15.2M590.16 234.17h15.2M597.76 226.57v15.2M595.91 235.3h15.2M603.51 227.7v15.2M603 236.45h15.2M610.6 228.85v15.2M605.73 236.92h15.2M613.33 229.32v15.2M614.06 237.93h15.2M621.66 230.33v15.2M624.93 240.01h15.2M632.53 232.41v15.2M630.51 240.84h15.2M638.11 233.24v15.2M635.49 241.83h15.2M643.09 234.23v15.2M637.3 242.37h15.2M644.9 234.77v15.2M644.54 243.23h15.2M652.14 235.63v15.2M646.91 242.97h15.2M654.51 235.37v15.2M648.46 243.49h15.2M656.06 235.89v15.2M649.17 244.52h15.2M656.77 236.92v15.2M651.6 244.56h15.2M659.2 236.96v15.2M659.94 246.48h15.2M667.54 238.88v15.2M661.54 246.4h15.2M669.14 238.8v15.2M664.52 247.35h15.2M672.12 239.75v15.2M668.83 248.12h15.2M676.43 240.52v15.2M677.61 250.33h15.2M685.21 242.73v15.2M679.22 250.32h15.2M686.82 242.72v15.2M686.32 252.46h15.2M693.92 244.86v15.2M688.74 252.46h15.2M696.34 244.86v15.2M694.06 253.89h15.2M701.66 246.29v15.2M695.74 253.7h15.2M703.34 246.1v15.2M698.33 254.31h15.2M705.93 246.71v15.2M701.23 255.65h15.2M708.83 248.05v15.2M702.9 255.48h15.2M710.5 247.88v15.2M706.79 256.8h15.2M714.39 249.2v15.2M715.68 258.98h15.2M723.28 251.38v15.2M723.32 260.77h15.2M730.92 253.17v15.2M725.79 260.72h15.2M733.39 253.12v15.2M727.54 260.97h15.2M735.14 253.37v15.2M731.08 262.75h15.2M738.68 255.15v15.2M732.91 263.16h15.2M740.51 255.56v15.2M739.74 264.67h15.2M747.34 257.07v15.2M741.74 265.01h15.2M749.34 257.41v15.2M746.84 266.34h15.2M754.44 258.74v15.2M753.55 268.48h15.2M761.15 260.88v15.2M756.04 268.19h15.2M763.64 260.59v15.2M759.68 269.36h15.2M767.28 261.76v15.2M764.3 270.54h15.2M771.9 262.94v15.2M766.36 270.89h15.2M773.96 263.29v15.2M769.1 270.93h15.2M776.7 263.33v15.2M772.21 271.81h15.2M779.81 264.21v15.2M773.87 272.48h15.2M781.47 264.88v15.2M781 274.19h15.2M788.6 266.59v15.2M787.55 275.72h15.2M795.15 268.12v15.2M790.04 275.92h15.2M797.64 268.32v15.2M791.37 276.51h15.2M798.97 268.91v15.2M793.79 277.2h15.2M801.39 269.6v15.2M795.34 277.55h15.2M802.94 269.95v15.2M798.34 278.19h15.2M805.94 270.59v15.2M804.1 279.56h15.2M811.7 271.96v15.2M810.23 280.65h15.2M817.83 273.05v15.2M817.01 282.06h15.2M824.61 274.46v15.2M823.72 283.29h15.2M831.32 275.69v15.2M825.33 283.18h15.2M832.93 275.58v15.2M827.98 283.77h15.2M835.58 276.17v15.2M829.61 284.42h15.2M837.21 276.82v15.2M838.47 286.42h15.2M846.07 278.82v15.2M840.3 286.14h15.2M847.9 278.54v15.2M843.15 286.85h15.2M850.75 279.25v15.2M849.25 289.12h15.2M856.85 281.52v15.2M851.56 288.94h15.2M859.16 281.34v15.2M858.15 291.53h15.2M865.75 283.93v15.2M861.15 291.95h15.2M868.75 284.35v15.2M862.84 292.46h15.2M870.44 284.86v15.2M863.05 292.6h15.2M870.65 285v15.2M865.43 292.85h15.2M873.03 285.25v15.2M873.46 295.48h15.2M881.06 287.88v15.2M882 297.5h15.2M889.6 289.9v15.2M883.65 298.07h15.2M891.25 290.47v15.2M887.97 299.03h15.2M895.57 291.43v15.2M890.91 299.49h15.2M898.51 291.89v15.2M892.65 299.93h15.2M900.25 292.33v15.2M896.87 301.25h15.2M904.47 293.65v15.2M903.65 302.77h15.2M911.25 295.17v15.2M910.26 304.7h15.2M917.86 297.1v15.2M913.09 304.87h15.2M920.69 297.27v15.2M917.21 306.07h15.2M924.81 298.47v15.2M919.27 306.18h15.2M926.87 298.58v15.2M921.96 306.96h15.2M929.56 299.36v15.2M923.11 307.5h15.2M930.71 299.9v15.2M925.23 307.82h15.2M932.83 300.22v15.2M928.07 308.28h15.2M935.67 300.68v15.2M933.48 310.2h15.2M941.08 302.6v15.2M936.48 310.52h15.2M944.08 302.92v15.2M937.08 310.43h15.2M944.68 302.83v15.2M939.34 311.46h15.2M946.94 303.86v15.2M945.28 312.86h15.2M952.88 305.26v15.2M947.25 312.95h15.2M954.85 305.35v15.2M949.94 314.3h15.2M957.54 306.7v15.2M952.32 314.51h15.2M959.92 306.91v15.2M948.4 314h15.2M956 306.4v15.2M951.4 314.8h15.2M959 307.2v15.2M954.9 315.5h15.2M962.5 307.9v15.2M956.9 316h15.2M964.5 308.4v15.2M958.4 316.3h15.2M966 308.7v15.2M959.9 316.6h15.2M967.5 309v15.2" fill="none" stroke="#4DBEEE" stroke-width="2"/>
<path d="M108 12.4V455H981.4M108 392.9h7.5M108 329.6h7.5M108 266.3h7.5M108 203h7.5M108 139.7h7.5M108 76.4h7.5M108 13.1h7.5M326.35 455v-7.5M544.7 455v-7.5M763.05 455v-7.5M981.4 455v-7.5" stroke="#141414" stroke-width="2" fill="none"/>
<path d="M547.8 166.2L542.15 182.1" stroke="#000" stroke-width="1.3" fill="none"/><path d="M537.5 195.2L537.28 175.49L542.15 182.1L550.1 180.04z" fill="#000"/>
<path d="M364.4 242.5L389.5 242.11" stroke="#000" stroke-width="1.3" fill="none"/><path d="M403.4 241.9L385.01 248.98L389.5 242.11L384.8 235.39z" fill="#000"/>
<path d="M588.6 310L562.2 309.93" stroke="#000" stroke-width="1.3" fill="none"/><path d="M548.3 309.9L566.82 303.15L562.2 309.93L566.78 316.75z" fill="#000"/>
<rect x="111.3" y="282" width="298.5" height="168.6" fill="#fff" stroke="#141414" stroke-width="1.5"/>
<path d="M144.4 289l7 8.5l-7 8.5l-7 -8.5z" fill="none" stroke="#0072BD" stroke-width="1.2"/>
<path d="M138.6 319.3h11.6v11.6h-11.6z" fill="none" stroke="#D95319" stroke-width="1.2"/>
<path d="M137.6 352.7a6.8 6.8 0 1 0 13.6 0a6.8 6.8 0 1 0 -13.6 0" fill="none" stroke="#EDB120" stroke-width="1.2"/>
<path d="M144.4 371.5l7.6 14h-15.2z" fill="none" stroke="#7E2F8E" stroke-width="1.2"/>
<path d="M136.9 407.9h15M144.4 400.4v15M139.1 402.6l10.61 10.61M139.1 413.2l10.61 -10.61" fill="none" stroke="#77AC30" stroke-width="1.2"/>
<path d="M136.8 435.5h15.2M144.4 427.9v15.2" fill="none" stroke="#4DBEEE" stroke-width="1.2"/>
<text transform="matrix(0.24804 0 0 0.2263 175.55 306.4)" font-size="100" stroke="#000" stroke-width="1.9">Approach and Landing</text>
<text transform="matrix(0.2436 0 0 0.23089 175.63 333.3)" font-size="100" stroke="#000" stroke-width="1.9">Climb</text>
<text transform="matrix(0.2498 0 0 0.23089 175.6 361.1)" font-size="100" stroke="#000" stroke-width="1.87">Cruise</text>
<text transform="matrix(0.24608 0 0 0.2263 176.31 388.4)" font-size="100" stroke="#000" stroke-width="1.91">Descent</text>
<text transform="matrix(0.23973 0 0 0.23242 177.07 416.1)" font-size="100" stroke="#000" stroke-width="1.91">Taxi in&amp;out</text>
<text transform="matrix(0.24351 0 0 0.2263 177.06 442.9)" font-size="100" stroke="#000" stroke-width="1.92">Take-off</text>
<text transform="matrix(0.41787 0 0 0.38095 49.69 32.22)" font-size="100" stroke="#000" stroke-width="1.13">3</text>
<text transform="matrix(0.39851 0 0 0.37651 69.99 31.92)" font-size="100" stroke="#000" stroke-width="1.16">5</text>
<text transform="matrix(0.42512 0 0 0.39286 46.36 94.11)" font-size="100" stroke="#000" stroke-width="1.1">3</text>
<text transform="matrix(0.4316 0 0 0.31509 68.06 88.68)" font-size="100" stroke="#000" stroke-width="1.21">0</text>
<text transform="matrix(0.4204 0 0 0.30514 49.15 152.9)" font-size="100" stroke="#000" stroke-width="1.24">2</text>
<text transform="matrix(0.40099 0 0 0.375 68.47 158.72)" font-size="100" stroke="#000" stroke-width="1.16">5</text>
<text transform="matrix(0.4204 0 0 0.31118 48.05 216.8)" font-size="100" stroke="#000" stroke-width="1.23">2</text>
<text transform="matrix(0.44104 0 0 0.30473 68.42 216.5)" font-size="100" stroke="#000" stroke-width="1.21">0</text>
<text transform="matrix(0.34375 0 0 0.29545 52.38 277.9)" font-size="100" stroke="#000" stroke-width="1.41">1</text>
<text transform="matrix(0.40842 0 0 0.38102 67.73 284.12)" font-size="100" stroke="#000" stroke-width="1.14">5</text>
<text transform="matrix(0.34375 0 0 0.30606 49.48 343.3)" font-size="100" stroke="#000" stroke-width="1.39">1</text>
<text transform="matrix(0.44104 0 0 0.29882 68.12 343)" font-size="100" stroke="#000" stroke-width="1.22">0</text>
<text transform="matrix(0.42574 0 0 0.37952 65.83 411.62)" font-size="100" stroke="#000" stroke-width="1.12">5</text>
<text transform="matrix(0.45991 0 0 0.28994 64.15 468.71)" font-size="100" stroke="#000" stroke-width="1.2">0</text>
<text transform="matrix(0.42289 0 0 0.31118 69.74 494.6)" font-size="100" stroke="#000" stroke-width="1.23">2</text>
<text transform="matrix(0.44811 0 0 0.30473 90 494.3)" font-size="100" stroke="#000" stroke-width="1.2">0</text>
<text transform="matrix(0.44811 0 0 0.30473 112.1 494.3)" font-size="100" stroke="#000" stroke-width="1.2">0</text>
<text transform="matrix(0.44811 0 0 0.30473 134.2 494.3)" font-size="100" stroke="#000" stroke-width="1.2">0</text>
<text transform="matrix(0.36364 0 0 0.31212 288.6 494.6)" font-size="100" stroke="#000" stroke-width="1.33">1</text>
<text transform="matrix(0.42217 0 0 0.30473 307.5 494.3)" font-size="100" stroke="#000" stroke-width="1.24">0</text>
<text transform="matrix(0.43396 0 0 0.30473 329.25 494.3)" font-size="100" stroke="#000" stroke-width="1.22">0</text>
<text transform="matrix(0.43632 0 0 0.30473 350.94 494.3)" font-size="100" stroke="#000" stroke-width="1.21">0</text>
<text transform="matrix(0.44575 0 0 0.30473 531.51 494.3)" font-size="100" stroke="#000" stroke-width="1.2">0</text>
<text transform="matrix(0.37784 0 0 0.31212 721.68 494.6)" font-size="100" stroke="#000" stroke-width="1.3">1</text>
<text transform="matrix(0.41509 0 0 0.30473 739.42 494.3)" font-size="100" stroke="#000" stroke-width="1.25">0</text>
<text transform="matrix(0.42925 0 0 0.30473 760.67 494.3)" font-size="100" stroke="#000" stroke-width="1.23">0</text>
<text transform="matrix(0.45283 0 0 0.30473 781.98 494.3)" font-size="100" stroke="#000" stroke-width="1.19">0</text>
<text transform="matrix(0.42289 0 0 0.31118 938.84 494.6)" font-size="100" stroke="#000" stroke-width="1.23">2</text>
<text transform="matrix(0.43396 0 0 0.30473 958.95 494.3)" font-size="100" stroke="#000" stroke-width="1.22">0</text>
<text transform="matrix(0.43632 0 0 0.30473 981.24 494.3)" font-size="100" stroke="#000" stroke-width="1.21">0</text>
<text transform="matrix(0.44575 0 0 0.30473 1003.11 494.3)" font-size="100" stroke="#000" stroke-width="1.2">0</text>
<rect x="52" y="483.7" width="17" height="2.2" fill="#000"/>
<rect x="273.4" y="483.7" width="16.7" height="2.2" fill="#000"/>
<text transform="matrix(0.30507 0 0 0.31498 200.49 81.4)" font-size="100" stroke="#000" stroke-width="1.45">AL</text>
<text transform="matrix(0.31324 0 0 0.31804 533.85 153.2)" font-size="100" stroke="#000" stroke-width="1.43">CL</text>
<text transform="matrix(0.31927 0 0 0.3211 318.31 260.2)" font-size="100" stroke="#000" stroke-width="1.41">DE</text>
<text transform="matrix(0.30757 0 0 0.3211 591.87 320.6)" font-size="100" stroke="#000" stroke-width="1.43">CR</text>
<text transform="matrix(0.31449 0 0 0.31804 911.13 298.2)" font-size="100" stroke="#000" stroke-width="1.42">TO</text>
<text transform="matrix(0.33527 0 0 0.31804 533.2 442.9)" font-size="100" stroke="#000" stroke-width="1.38">Taxi</text>
<text transform="matrix(0.35872 0 0 0.34251 182.3 531.6)" font-size="100" stroke="#000" stroke-width="1.28">Electrical power input to the low speed shaft (kW)</text>
<text transform="translate(31.7 390.69) rotate(-90) scale(0.35808 0.34404)" font-size="100" stroke="#000" stroke-width="1.28">IPC surge margin (%)</text>
</svg>
</body></html>
